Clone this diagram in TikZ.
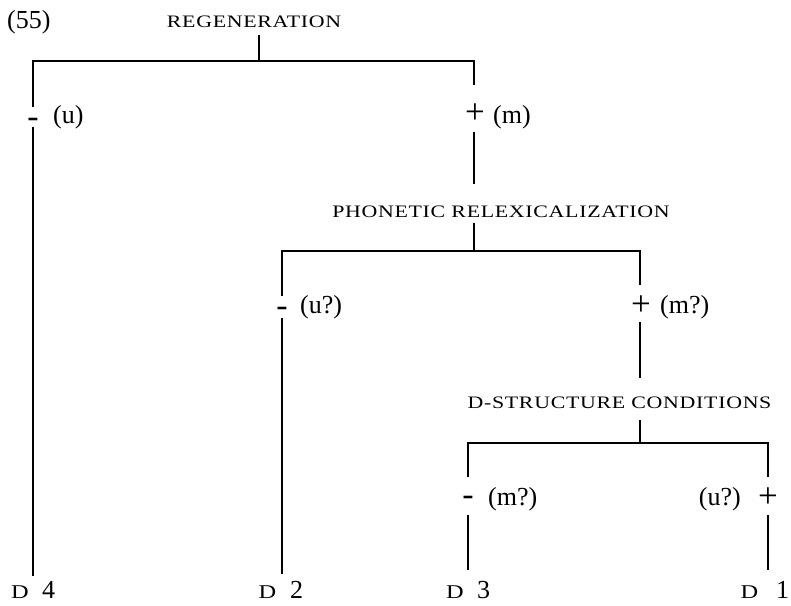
\documentclass[tikz,border=0pt]{standalone}
\usepackage{fontspec}
\setmainfont{Liberation Serif}
\newfontfamily\capsfont[FakeStretch=1.25,LetterSpace=4]{Liberation Serif}
\tikzset{
  lbl/.style={inner sep=0pt, font=\fontsize{26}{30}\selectfont},
  caplbl/.style={inner sep=0pt, font=\capsfont\fontsize{17.5}{20}\selectfont},
  dsm/.style={inner sep=0pt, font=\capsfont\fontsize{19.5}{22}\selectfont},
  plussign/.style={inner sep=0pt, font=\fontsize{35}{38}\selectfont},
  minussign/.style={inner sep=0pt, font=\fontsize{34}{38}\selectfont},
  br/.style={line width=1.4pt},
}
\begin{document}
\begin{tikzpicture}[x=1pt,y=-1pt]
\useasboundingbox (0,0) rectangle (791,605);
% headings
\node[lbl,anchor=base west] (ex) at (7,28.5) {(55)};
\node[caplbl,anchor=base] (regen) at (254,27) {REGENERATION};
\node[caplbl,anchor=base] (phon) at (501,217) {PHONETIC RELEXICALIZATION};
\node[caplbl,anchor=base] (dstr) at (619.5,408) {D-STRUCTURE CONDITIONS};
% level 1 labels
\node[minussign,anchor=base] (m1) at (33,127) {-};
\node[lbl,anchor=base west] (u1) at (53,123) {(u)};
\node[plussign,anchor=base] (p1) at (475,123) {+};
\node[lbl,anchor=base west] (mm1) at (493,123) {(m)};
% level 2 labels
\node[minussign,anchor=base] (m2) at (282,316.2) {-};
\node[lbl,anchor=base west] (u2) at (300,313) {(u?)};
\node[plussign,anchor=base] (p2) at (641,315) {+};
\node[lbl,anchor=base west] (mm2) at (660,313) {(m?)};
% level 3 labels
\node[minussign,anchor=base] (m3) at (468,505.5) {-};
\node[lbl,anchor=base west] (mm3) at (488,505) {(m?)};
\node[plussign,anchor=base] (p3) at (768,507) {+};
\node[lbl,anchor=base east] (u3) at (741,505) {(u?)};
% leaves
\node[dsm,anchor=base] (d4) at (20,598.5) {D};
\node[lbl,anchor=base] (n4) at (48.5,598.5) {4};
\node[dsm,anchor=base] (d2) at (267.5,598.5) {D};
\node[lbl,anchor=base] (n2) at (296.5,598.5) {2};
\node[dsm,anchor=base] (d3) at (455,598.5) {D};
\node[lbl,anchor=base] (n3) at (483.5,598.5) {3};
\node[dsm,anchor=base] (d1) at (749.5,598.5) {D};
\node[lbl,anchor=base] (n1) at (782.5,598.5) {1};
% coordinates
\coordinate (ra) at (259,35);
\coordinate (rb) at (259,61);
\coordinate (la) at (33,61);
\coordinate (lb) at (33,107);
\coordinate (lc) at (33,127);
\coordinate (ld) at (33,576);
\coordinate (ka) at (474,61);
\coordinate (kb) at (474,85);
\coordinate (kc) at (474,132);
\coordinate (kd) at (474,184);
\coordinate (pa) at (474,223);
\coordinate (pb) at (474,251);
\coordinate (qa) at (282,251);
\coordinate (qb) at (282,296);
\coordinate (qc) at (282,318);
\coordinate (qd) at (282,574);
\coordinate (sa) at (640,251);
\coordinate (sb) at (640,285);
\coordinate (sc) at (640,322);
\coordinate (sd) at (640,378);
\coordinate (ta) at (640,420);
\coordinate (tb) at (640,443);
\coordinate (ua) at (468,443);
\coordinate (ub) at (468,477);
\coordinate (uc) at (468,515);
\coordinate (ud) at (468,570);
\coordinate (va) at (768,443);
\coordinate (vb) at (768,477);
\coordinate (vc) at (768,515);
\coordinate (vd) at (768,570);
% lines
\draw[br] (ra) -- (rb);
\draw[br] (lb) -- (la) -- (ka) -- (kb);
\draw[br] (lc) -- (ld);
\draw[br] (kc) -- (kd);
\draw[br] (pa) -- (pb);
\draw[br] (qb) -- (qa) -- (sa) -- (sb);
\draw[br] (qc) -- (qd);
\draw[br] (sc) -- (sd);
\draw[br] (ta) -- (tb);
\draw[br] (ub) -- (ua) -- (va) -- (vb);
\draw[br] (uc) -- (ud);
\draw[br] (vc) -- (vd);
\end{tikzpicture}
\end{document}
